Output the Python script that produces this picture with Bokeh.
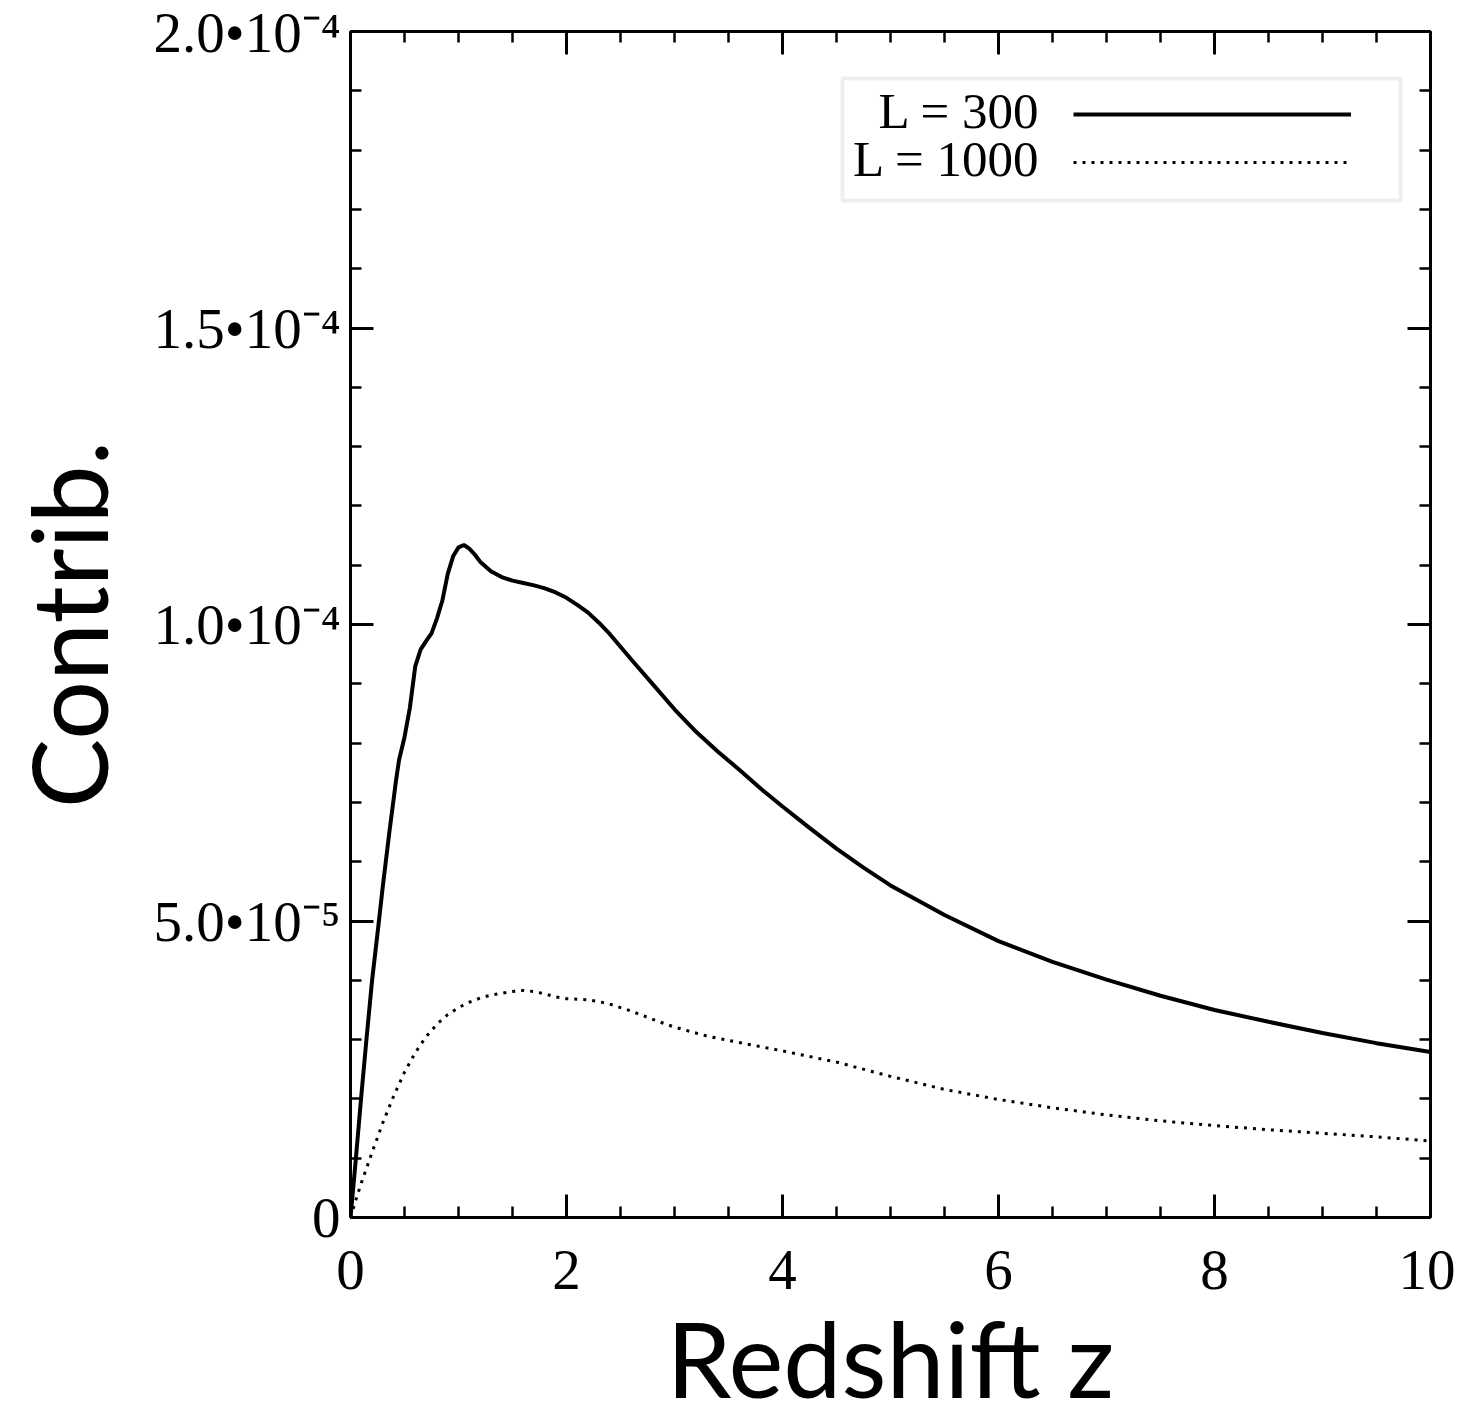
from bokeh.plotting import figure
from bokeh.models import (Range1d, LinearAxis, SingleIntervalTicker, CustomJSTickFormatter,
                          Legend, LegendItem, BoxAnnotation, Label)
from bokeh.embed import file_html
from bokeh.resources import INLINE

# ---------------- data ----------------
z_l300 = [0, 0.05, 0.1, 0.15, 0.2, 0.26, 0.3, 0.36, 0.42, 0.45, 0.5, 0.55, 0.6, 0.65, 0.7,
          0.75, 0.8, 0.85, 0.9, 0.95, 1.0, 1.05, 1.1, 1.15, 1.2, 1.3, 1.4, 1.5, 1.6, 1.7,
          1.8, 1.9, 2.0, 2.1, 2.2, 2.3, 2.4, 2.6, 2.8, 3.0, 3.2, 3.4, 3.6, 3.8, 4.0, 4.25,
          4.5, 4.75, 5.0, 5.5, 6.0, 6.5, 7.0, 7.5, 8.0, 8.5, 9.0, 9.5, 10.0]
v_l300 = [0, 0.10, 0.205, 0.305, 0.40, 0.495, 0.56, 0.65, 0.735, 0.772, 0.81, 0.86, 0.93,
          0.958, 0.972, 0.985, 1.01, 1.04, 1.085, 1.115, 1.13, 1.134, 1.128, 1.118, 1.106,
          1.09, 1.08, 1.074, 1.07, 1.066, 1.061, 1.054, 1.045, 1.033, 1.02, 1.003, 0.984,
          0.941, 0.899, 0.857, 0.819, 0.786, 0.755, 0.723, 0.693, 0.657, 0.622, 0.59, 0.56,
          0.51, 0.466, 0.431, 0.401, 0.374, 0.35, 0.33, 0.311, 0.294, 0.279]

z_l1000 = [0, 0.05, 0.1, 0.2, 0.3, 0.4, 0.5, 0.6, 0.7, 0.8, 0.9, 1.0, 1.1, 1.2, 1.3, 1.4,
           1.5, 1.6, 1.7, 1.8, 1.9, 2.0, 2.1, 2.2, 2.3, 2.4, 2.6, 2.8, 3.0, 3.3, 3.6, 4.0,
           4.5, 5.0, 5.5, 6.0, 6.5, 7.0, 7.5, 8.0, 8.5, 9.0, 9.5, 10.0]
v_l1000 = [0, 0.03, 0.058, 0.11, 0.16, 0.205, 0.245, 0.278, 0.305, 0.326, 0.342, 0.354,
           0.363, 0.370, 0.375, 0.378, 0.381, 0.383, 0.381, 0.377, 0.372, 0.369, 0.368,
           0.367, 0.364, 0.360, 0.348, 0.334, 0.321, 0.306, 0.295, 0.281, 0.262, 0.238,
           0.216, 0.199, 0.185, 0.173, 0.163, 0.155, 0.148, 0.142, 0.136, 0.129]
unit = 1e-4  # values above are in units of 1e-4

series_labels = ["L = 300", "L = 1000"]
x_title = "Redshift z"
y_title = "Contrib."

y_tick_values = [0, 0.5e-4, 1.0e-4, 1.5e-4, 2.0e-4]
y_tick_labels = ["0", "5.0\u202210\u207b\u2075", "1.0\u202210\u207b\u2074",
                 "1.5\u202210\u207b\u2074", "2.0\u202210\u207b\u2074"]

# ---------------- figure ----------------
SERIF = "Liberation Serif"
SANS = "Lato"
FW, FH = 1080, 1186
X0, X1, Y0, Y1 = 0.0, 10.0, 0.0, 2.0e-4
LEFT, TOP, RIGHT = 350, 31, 25
BOTTOM = 1419 - TOP - FH

p = figure(frame_width=FW, frame_height=FH,
           x_range=Range1d(X0, X1), y_range=Range1d(Y0, Y1),
           output_backend="svg", toolbar_location=None,
           min_border_left=LEFT, min_border_top=TOP, min_border_right=RIGHT,
           min_border_bottom=BOTTOM, x_axis_label=x_title, y_axis_label=y_title)
p.background_fill_color = "white"
p.border_fill_color = "white"
p.outline_line_color = None
p.xgrid.visible = False
p.ygrid.visible = False

yv = [v * unit for v in v_l300]
yd = [v * unit for v in v_l1000]
r1 = p.line(z_l300, yv, line_color="black", line_width=4)
r2 = p.line(z_l1000, yd, line_color="black", line_width=3, line_dash="3 6")

ylab_fmt = CustomJSTickFormatter(args=dict(vals=y_tick_values, labs=y_tick_labels), code="""
for (let i = 0; i < vals.length; i++) {
  if (Math.abs(tick - vals[i]) < 1e-9) { return labs[i]; }
}
return '';
""")
blank_fmt = CustomJSTickFormatter(code="return '';")


def style_axis(ax, interval, nminor):
    ax.ticker = SingleIntervalTicker(interval=interval, num_minor_ticks=nminor)
    ax.axis_line_width = 3
    ax.axis_line_color = "black"
    ax.major_tick_in = 23
    ax.major_tick_out = 0
    ax.minor_tick_in = 11
    ax.minor_tick_out = 0
    ax.major_tick_line_width = 3
    ax.minor_tick_line_width = 2.5
    ax.major_tick_line_color = "black"
    ax.minor_tick_line_color = "black"


xa = p.xaxis[0]
style_axis(xa, 2, 4)
xa.major_label_text_font = SERIF
xa.major_label_text_font_size = "57px"
xa.major_label_text_color = "black"
xa.major_label_standoff = 33
xa.axis_label_text_font = SANS
xa.axis_label_text_font_size = "104px"
xa.axis_label_text_font_style = "normal"
xa.axis_label_text_color = "black"
xa.axis_label_standoff = 3

ya = p.yaxis[0]
style_axis(ya, 0.5e-4, 5)
ya.formatter = ylab_fmt
ya.major_label_text_font = SERIF
ya.major_label_text_font_size = "57px"
ya.major_label_text_color = "black"
ya.major_label_standoff = 10
ya.axis_label_text_font = SANS
ya.axis_label_text_font_size = "104px"
ya.axis_label_text_font_style = "normal"
ya.axis_label_text_color = "black"
ya.axis_label_standoff = 20

top_ax = LinearAxis(formatter=blank_fmt, major_label_standoff=0)
style_axis(top_ax, 2, 4)
right_ax = LinearAxis(formatter=blank_fmt, major_label_standoff=0)
style_axis(right_ax, 0.5e-4, 5)
p.add_layout(top_ax, "above")
p.add_layout(right_ax, "right")

# pixel helpers (picture pixel -> data), frame origin at picture (350, 1217)
px_per_x = FW / (X1 - X0)
px_per_y = FH / (Y1 - Y0)
def dx(px):
    return X0 + (px - LEFT) / px_per_x
def dy(py):
    return Y0 + (TOP + FH - py) / px_per_y

# ---------------- legend (labels left of the samples, as in the reference) ----------------
box = BoxAnnotation(left=dx(842), right=dx(1400), top=dy(78), bottom=dy(200),
                    fill_color="white", fill_alpha=1.0,
                    line_color="#c8c8c8", line_width=4, level="underlay")
p.add_layout(box)

legend = Legend(items=[LegendItem(label=" ", renderers=[r1]),
                       LegendItem(label=" ", renderers=[r2])],
                location=(723, 1035), orientation="vertical",
                glyph_width=278, glyph_height=40, spacing=8, padding=0, margin=0,
                label_width=0, label_height=40, label_standoff=0,
                label_text_font_size="1px",
                border_line_alpha=0, background_fill_alpha=0)
p.add_layout(legend)

for txt, yc in zip(series_labels, [dy(110), dy(158)]):
    p.add_layout(Label(x=dx(1040), y=yc, text=txt,
                       text_align="right", text_baseline="middle",
                       text_font=SERIF, text_font_size="51px", text_color="black"))

open("out.html", "w").write(file_html(p, INLINE))
